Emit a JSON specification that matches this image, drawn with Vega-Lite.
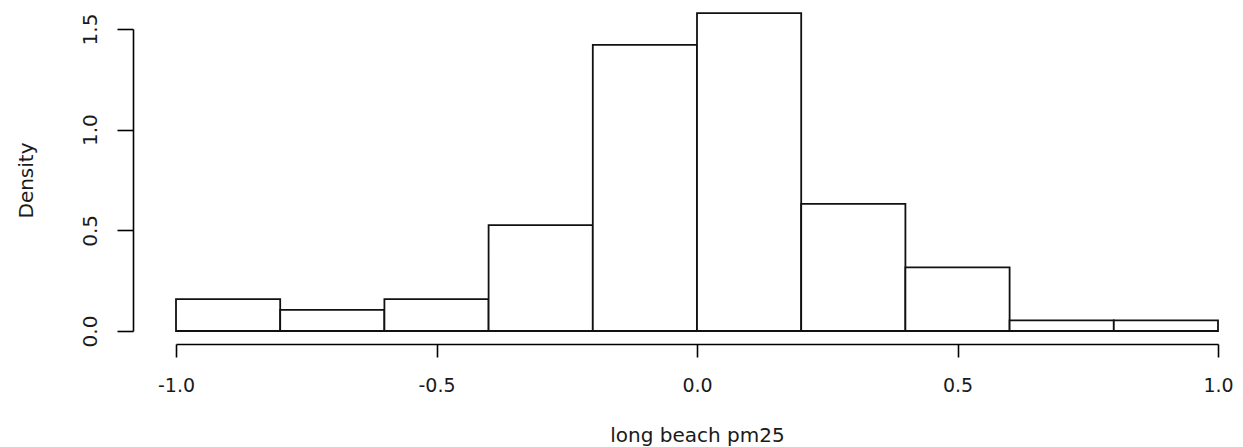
{
  "$schema": "https://vega.github.io/schema/vega-lite/v6.json",
  "width": 1042,
  "height": 302,
  "autosize": {"type": "none"},
  "padding": {"left": 176, "top": 29, "right": 25, "bottom": 116},
  "background": "white",
  "config": {
    "view": {"stroke": null},
    "axis": {
      "grid": false,
      "labelFont": "DejaVu Sans",
      "titleFont": "DejaVu Sans",
      "labelColor": "#1a1a1a",
      "titleColor": "#1a1a1a",
      "titleFontWeight": "normal",
      "domainColor": "#000",
      "tickColor": "#000",
      "domainWidth": 1.6,
      "tickWidth": 1.6
    }
  },
  "data": {
    "values": [
      {"lo": -1.0, "hi": -0.8, "density": 0.1579},
      {"lo": -0.8, "hi": -0.6, "density": 0.1053},
      {"lo": -0.6, "hi": -0.4, "density": 0.1579},
      {"lo": -0.4, "hi": -0.2, "density": 0.5263},
      {"lo": -0.2, "hi": 0.0, "density": 1.4211},
      {"lo": 0.0, "hi": 0.2, "density": 1.5789},
      {"lo": 0.2, "hi": 0.4, "density": 0.6316},
      {"lo": 0.4, "hi": 0.6, "density": 0.3158},
      {"lo": 0.6, "hi": 0.8, "density": 0.0526},
      {"lo": 0.8, "hi": 1.0, "density": 0.0526}
    ]
  },
  "mark": {"type": "rect", "fill": "white", "stroke": "#111", "strokeWidth": 1.8, "clip": false},
  "encoding": {
    "x": {
      "field": "lo",
      "type": "quantitative",
      "scale": {"domain": [-1, 1], "nice": false, "zero": false},
      "axis": {
        "title": "long beach pm25",
        "values": [-1, -0.5, 0, 0.5, 1],
        "labelExpr": "replace(format(datum.value, '.1f'), '\u2212', '-')",
        "offset": 13,
        "tickSize": 13,
        "labelFontSize": 19,
        "labelPadding": 19,
        "labelFlush": false,
        "titleFontSize": 20,
        "titlePadding": 30
      }
    },
    "x2": {"field": "hi"},
    "y": {
      "field": "density",
      "type": "quantitative",
      "scale": {"domain": [0, 1.5], "nice": false, "zero": true},
      "axis": {
        "title": "Density",
        "values": [0, 0.5, 1, 1.5],
        "format": ".1f",
        "offset": 43,
        "tickSize": 16,
        "labelAngle": -90,
        "labelAlign": "center",
        "labelBaseline": "bottom",
        "labelFontSize": 20,
        "labelPadding": 17,
        "labelFlush": false,
        "titleFontSize": 20,
        "titlePadding": 44
      }
    },
    "y2": {"datum": 0}
  }
}
